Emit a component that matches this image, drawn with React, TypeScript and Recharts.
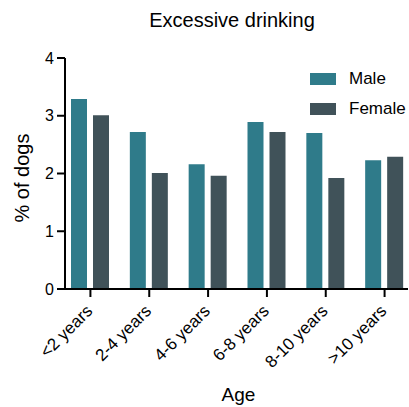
import { BarChart, Bar, XAxis, YAxis, Legend, Label } from "recharts"

const ageGroups = ["<2 years", "2-4 years", "4-6 years", "6-8 years", "8-10 years", ">10 years"]
const male = [3.29, 2.72, 2.16, 2.89, 2.7, 2.23]
const female = [3.01, 2.01, 1.96, 2.72, 1.92, 2.29]
const yTicks = [0, 1, 2, 3, 4]

const MALE = "#2f7b8a"
const FEMALE = "#405259"
const FONT = "Arial, 'Liberation Sans', Helvetica, sans-serif"

const data = ageGroups.map((age, i) => ({ age, male: male[i], female: female[i] }))

function AgeTick({ x, y, payload }: any) {
  return (
    <g transform={`translate(${x},${y})`}>
      <text
        textAnchor="end"
        transform="translate(3,15) rotate(-45)"
        fontSize={17}
        fontFamily={FONT}
        fill="#000"
      >
        {payload.value}
      </text>
    </g>
  )
}

function LegendBox() {
  const items = [
    { name: "Male", color: MALE },
    { name: "Female", color: FEMALE },
  ]
  return (
    <div style={{ fontFamily: FONT, fontSize: 17, color: "#000" }}>
      {items.map((it) => (
        <div key={it.name} style={{ display: "flex", alignItems: "center", height: 30 }}>
          <span style={{ width: 26, height: 12, background: it.color, marginRight: 13 }} />
          <span>{it.name}</span>
        </div>
      ))}
    </div>
  )
}

export default function App() {
  return (
    <div style={{ position: "absolute", left: 0, top: 0, width: 409, height: 407, background: "#fff" }}>
      <div
        style={{
          position: "absolute",
          left: 0,
          top: 9,
          width: 464,
          textAlign: "center",
          fontFamily: FONT,
          fontSize: 20,
          color: "#000",
        }}
      >
        Excessive drinking
      </div>
      <BarChart
        width={409}
        height={407}
        data={data}
        margin={{ top: 58, right: 1, bottom: 0, left: 0 }}
        barSize={16}
        barGap={6}
      >
        <XAxis
          dataKey="age"
          height={118}
          padding={{ left: -4, right: -6 }}
          stroke="#000"
          strokeWidth={2}
          tickSize={8}
          tickMargin={0}
          tick={<AgeTick />}
          interval={0}
        >
          <Label
            value="Age"
            position="insideBottom"
            offset={6}
            dx={2}
            style={{ fontFamily: FONT, fontSize: 19, fill: "#000" }}
          />
        </XAxis>
        <YAxis
          width={65}
          domain={[0, 4]}
          ticks={yTicks}
          stroke="#000"
          strokeWidth={2}
          tickSize={8}
          tickMargin={3}
          tick={{ fill: "#000", fontSize: 16, fontFamily: FONT }}
        >
          <Label
            content={() => (
              <text
                x={22}
                y={178}
                transform="rotate(-90 22 178)"
                textAnchor="middle"
                dominantBaseline="central"
                fontSize={20}
                fontFamily={FONT}
                fill="#000"
              >
                % of dogs
              </text>
            )}
          />
        </YAxis>
        <Legend
          layout="vertical"
          align="center"
          verticalAlign="middle"
          content={<LegendBox />}
          wrapperStyle={{ left: 310, top: 64, width: "auto" }}
        />
        <Bar dataKey="male" name="Male" fill={MALE} isAnimationActive={false} />
        <Bar dataKey="female" name="Female" fill={FEMALE} isAnimationActive={false} />
      </BarChart>
    </div>
  )
}
